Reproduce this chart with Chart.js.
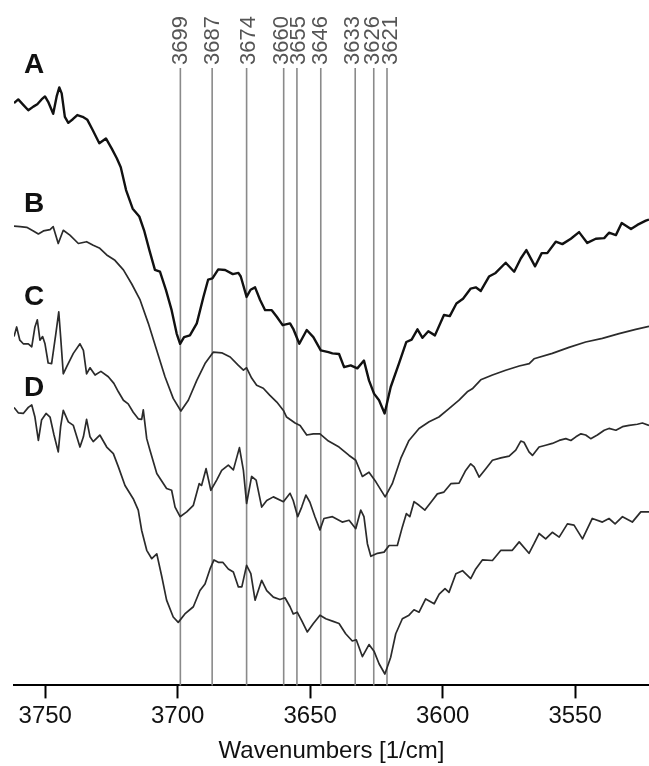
<!DOCTYPE html>
<html>
<head>
<meta charset="utf-8">
<script src="https://cdn.jsdelivr.net/npm/chart.js@4/dist/chart.umd.min.js"></script>
<style>
  html, body { margin: 0; padding: 0; background: #fff; }
  canvas { display: block; }
</style>
</head>
<body>
<canvas id="chart-ir" width="649" height="766"></canvas>
<script>
// Wavenumber window (reversed axis, as in the spectrum)
const X_MIN = 3522.1;
const X_MAX = 3761.8;
const X_TICKS_STEP = 50;

// Marked band positions [1/cm]
const peaks = [3699, 3687, 3674, 3660, 3655, 3646, 3633, 3626, 3621];

// Series labels
const seriesNames = ["A", "B", "C", "D"];

// Spectrum A (arb. units, offset)
const wnA = [3761.8, 3760.2, 3758.3, 3756.4, 3754.5, 3753.0, 3751.4, 3750.1, 3748.9, 3747.0, 3745.7, 3744.7, 3743.8, 3742.6, 3741.3, 3739.6, 3737.9, 3735.9, 3734.1, 3732.1, 3729.6, 3727.1, 3724.9, 3723.0, 3721.5, 3719.5, 3717.0, 3714.5, 3712.7, 3710.7, 3708.6, 3706.7, 3704.4, 3702.3, 3700.4, 3699.1, 3697.6, 3695.4, 3692.8, 3690.3, 3688.5, 3686.9, 3684.7, 3682.1, 3679.2, 3677.1, 3676.2, 3674.0, 3672.5, 3670.8, 3668.9, 3667.0, 3664.5, 3662.6, 3660.4, 3657.6, 3656.4, 3654.1, 3651.3, 3648.8, 3646.0, 3643.1, 3641.6, 3639.1, 3637.2, 3634.7, 3632.2, 3629.7, 3627.8, 3625.9, 3624.0, 3621.9, 3619.6, 3616.5, 3613.7, 3611.7, 3609.5, 3607.6, 3605.4, 3602.9, 3599.5, 3597.3, 3594.8, 3592.3, 3589.4, 3587.5, 3585.6, 3582.5, 3580.0, 3576.2, 3573.0, 3570.5, 3568.4, 3565.1, 3562.6, 3560.5, 3557.3, 3554.8, 3551.6, 3548.5, 3545.4, 3542.2, 3539.0, 3537.2, 3534.6, 3532.4, 3528.9, 3526.5, 3523.3, 3522.1];
const valA = [97.0, 97.6, 96.7, 95.8, 96.4, 96.8, 97.6, 98.1, 97.2, 95.2, 98.1, 99.6, 98.6, 94.7, 93.7, 94.3, 95.0, 94.7, 94.2, 92.5, 90.3, 91.1, 89.4, 87.8, 86.3, 82.5, 79.4, 78.1, 75.8, 72.5, 69.2, 68.9, 65.8, 62.5, 58.6, 56.9, 58.0, 58.3, 60.3, 64.7, 67.6, 67.8, 69.3, 69.2, 68.5, 68.7, 68.1, 64.7, 65.9, 66.3, 64.2, 62.5, 62.5, 61.4, 60.0, 60.3, 59.4, 56.9, 59.2, 58.0, 55.8, 55.5, 55.3, 55.2, 53.0, 53.3, 52.8, 54.1, 50.8, 48.6, 47.5, 45.3, 49.7, 53.6, 57.2, 57.6, 59.3, 57.9, 59.0, 58.3, 61.7, 61.5, 63.6, 64.4, 66.1, 66.3, 65.7, 68.1, 68.7, 70.4, 68.9, 71.1, 72.5, 69.8, 72.0, 72.0, 73.9, 73.5, 74.4, 75.5, 73.7, 74.4, 74.5, 75.4, 75.0, 77.0, 76.0, 76.7, 77.4, 77.6];

// Spectrum B
const wnB = [3761.8, 3759.5, 3757.0, 3754.5, 3752.6, 3750.7, 3748.2, 3747.0, 3745.1, 3743.2, 3740.7, 3737.5, 3734.4, 3731.9, 3729.4, 3726.8, 3723.7, 3720.5, 3717.4, 3714.2, 3711.1, 3707.9, 3704.8, 3701.7, 3698.8, 3696.0, 3692.8, 3689.7, 3686.6, 3683.4, 3680.2, 3677.1, 3675.2, 3674.0, 3672.1, 3670.2, 3667.7, 3665.2, 3662.6, 3660.1, 3658.9, 3655.7, 3653.8, 3651.3, 3648.8, 3646.3, 3643.1, 3639.1, 3635.3, 3632.8, 3630.3, 3627.8, 3625.2, 3621.7, 3619.0, 3615.8, 3612.7, 3608.9, 3605.1, 3601.4, 3597.6, 3593.8, 3590.7, 3588.8, 3585.6, 3581.2, 3576.2, 3571.1, 3567.3, 3565.5, 3558.6, 3552.3, 3546.0, 3539.7, 3533.4, 3527.1, 3522.1];
const valB = [76.5, 76.4, 76.3, 75.7, 75.2, 75.7, 75.9, 76.4, 73.6, 75.8, 75.0, 73.6, 73.9, 73.3, 72.8, 71.7, 70.8, 69.2, 66.9, 64.2, 60.3, 55.8, 51.4, 47.8, 45.7, 47.5, 50.8, 53.6, 55.5, 55.4, 54.7, 53.3, 52.5, 52.9, 51.2, 50.0, 49.5, 48.3, 47.2, 45.8, 44.7, 43.7, 43.3, 41.7, 41.9, 41.9, 40.7, 39.7, 38.3, 37.5, 34.8, 35.5, 33.9, 31.4, 33.6, 37.8, 40.8, 42.8, 43.9, 44.7, 46.1, 47.5, 48.9, 49.4, 50.9, 51.7, 52.5, 53.2, 53.6, 54.4, 55.3, 56.3, 57.2, 57.8, 58.6, 59.3, 59.8];

// Spectrum C
const wnC = [3761.8, 3760.8, 3759.6, 3758.3, 3756.4, 3755.1, 3753.9, 3753.0, 3752.0, 3751.0, 3750.1, 3748.9, 3747.6, 3746.0, 3744.9, 3744.2, 3743.2, 3741.9, 3739.4, 3736.9, 3735.6, 3734.4, 3733.1, 3731.2, 3729.0, 3726.2, 3724.1, 3722.4, 3720.5, 3718.7, 3716.8, 3714.9, 3713.6, 3713.0, 3711.7, 3710.5, 3707.9, 3704.2, 3702.3, 3701.0, 3699.1, 3696.6, 3694.1, 3691.9, 3691.0, 3689.3, 3687.5, 3685.3, 3683.4, 3680.9, 3679.0, 3676.7, 3675.2, 3674.0, 3672.1, 3670.4, 3668.3, 3666.4, 3663.9, 3660.1, 3657.6, 3656.4, 3654.7, 3653.2, 3651.6, 3650.1, 3648.2, 3646.3, 3644.8, 3641.6, 3637.9, 3635.3, 3632.8, 3630.9, 3629.7, 3628.4, 3627.1, 3624.6, 3622.1, 3620.2, 3617.1, 3615.2, 3613.7, 3612.4, 3610.8, 3608.9, 3606.7, 3603.9, 3602.0, 3599.5, 3596.9, 3593.8, 3591.3, 3589.4, 3588.1, 3586.2, 3583.7, 3581.2, 3578.0, 3574.9, 3572.4, 3570.5, 3569.3, 3567.4, 3566.1, 3563.6, 3561.1, 3558.6, 3556.0, 3553.5, 3551.6, 3549.7, 3547.8, 3546.0, 3544.1, 3541.6, 3539.0, 3537.2, 3534.6, 3532.1, 3529.6, 3526.5, 3524.6, 3522.1];
const valC = [58.1, 59.7, 57.5, 56.9, 56.9, 56.4, 59.7, 60.9, 57.5, 58.1, 56.9, 53.7, 53.6, 58.6, 62.2, 58.1, 51.9, 53.1, 55.3, 56.9, 55.8, 51.9, 52.9, 51.7, 52.3, 51.4, 50.3, 48.9, 47.5, 46.9, 45.5, 44.4, 44.3, 45.9, 41.1, 39.2, 35.3, 32.8, 32.5, 29.7, 28.1, 28.9, 30.0, 33.6, 33.3, 36.1, 32.5, 34.2, 35.8, 36.7, 35.9, 39.6, 35.8, 30.3, 34.8, 34.2, 29.7, 30.8, 31.4, 30.6, 32.0, 30.8, 28.1, 29.7, 31.7, 30.5, 28.1, 25.9, 27.8, 28.1, 27.2, 27.5, 26.1, 29.2, 28.1, 23.6, 21.5, 22.0, 22.2, 23.3, 23.3, 26.4, 28.6, 28.1, 30.6, 30.0, 29.2, 30.8, 31.9, 32.2, 33.6, 33.7, 35.8, 36.9, 36.4, 34.7, 36.1, 37.5, 37.9, 38.2, 39.2, 40.7, 40.5, 38.9, 38.3, 39.7, 40.0, 40.3, 40.8, 41.1, 40.8, 41.4, 41.9, 41.7, 41.1, 41.7, 42.5, 42.8, 42.5, 43.1, 43.3, 43.5, 43.7, 43.3];

// Spectrum D
const wnD = [3761.8, 3760.2, 3758.3, 3756.4, 3755.1, 3753.9, 3752.6, 3751.4, 3749.7, 3748.2, 3746.7, 3745.1, 3744.2, 3743.2, 3741.3, 3739.4, 3736.9, 3735.6, 3734.4, 3733.1, 3731.9, 3729.4, 3726.8, 3724.3, 3722.4, 3719.9, 3716.8, 3714.9, 3713.6, 3711.7, 3709.8, 3707.9, 3706.0, 3704.2, 3701.7, 3699.8, 3697.3, 3694.1, 3691.6, 3689.7, 3687.8, 3686.3, 3684.7, 3683.0, 3680.9, 3679.0, 3677.1, 3675.8, 3674.0, 3672.4, 3670.8, 3668.3, 3666.4, 3663.9, 3661.4, 3659.5, 3657.6, 3656.4, 3654.9, 3653.2, 3651.1, 3648.8, 3646.3, 3644.1, 3641.6, 3639.1, 3636.6, 3634.1, 3632.6, 3630.3, 3627.8, 3625.9, 3624.0, 3621.8, 3619.6, 3617.7, 3615.2, 3612.7, 3610.8, 3608.9, 3606.4, 3603.2, 3601.3, 3599.1, 3597.6, 3595.0, 3592.5, 3589.4, 3587.5, 3585.0, 3581.2, 3578.0, 3573.7, 3571.1, 3567.4, 3565.5, 3563.6, 3561.1, 3558.6, 3556.0, 3552.9, 3550.4, 3547.2, 3543.5, 3539.7, 3537.2, 3534.9, 3532.1, 3528.4, 3525.2, 3522.1];
const valD = [46.3, 45.4, 45.3, 46.3, 46.7, 44.7, 40.8, 44.2, 45.3, 44.7, 41.7, 38.9, 43.1, 45.8, 43.9, 43.3, 39.7, 41.4, 44.3, 41.4, 40.6, 41.7, 39.7, 38.6, 36.4, 33.3, 31.1, 29.2, 25.8, 22.5, 21.1, 21.9, 18.1, 14.2, 11.4, 10.5, 11.9, 13.1, 15.8, 16.9, 19.4, 20.9, 20.5, 20.5, 19.4, 18.9, 16.4, 16.4, 20.0, 18.6, 14.2, 17.5, 15.8, 14.7, 14.3, 14.6, 13.1, 11.9, 12.2, 10.8, 8.9, 10.3, 11.7, 11.1, 10.7, 10.3, 8.6, 7.4, 7.6, 4.8, 6.8, 5.7, 3.6, 1.9, 4.7, 8.6, 11.1, 11.7, 12.6, 12.2, 14.4, 13.6, 15.2, 16.1, 15.5, 18.6, 19.1, 17.8, 19.4, 20.9, 20.8, 22.5, 22.5, 23.9, 22.0, 23.6, 25.3, 24.4, 25.5, 24.7, 26.9, 26.7, 24.4, 27.8, 27.2, 27.8, 26.9, 28.1, 27.2, 28.9, 28.9];

(function () {
  const FONT = "'Liberation Sans', Arial, Helvetica, sans-serif";

  function pts(xs, ys) { return xs.map((x, i) => ({ x: x, y: ys[i] })); }

  function line(label, xs, ys, color, width) {
    return {
      label, data: pts(xs, ys), borderColor: color, borderWidth: width,
      pointRadius: 0, tension: 0, fill: false, borderJoinStyle: "round"
    };
  }

  // vertical band markers with rotated labels
  const peakLines = {
    id: "peakLines",
    beforeDatasetsDraw(chart, args, opts) {
      const { ctx, chartArea, scales } = chart;
      ctx.save();
      peaks.forEach((p, i) => {
        const x = scales.x.getPixelForValue(p);
        ctx.strokeStyle = "#8a8a8a";
        ctx.lineWidth = 1.6;
        ctx.beginPath();
        ctx.moveTo(x, chartArea.top + 1);
        ctx.lineTo(x, chartArea.bottom);
        ctx.stroke();
        // labels nudged sideways where the lines are too close
        ctx.save();
        ctx.translate(x + (opts.nudge[i] || 0), chartArea.top - 2);
        ctx.rotate(-Math.PI / 2);
        ctx.fillStyle = "#555";
        ctx.font = "22px " + FONT;
        ctx.textAlign = "left";
        ctx.textBaseline = "middle";
        ctx.fillText(String(p), 0, 1);
        ctx.restore();
      });
      ctx.restore();
    }
  };

  // curve letters A-D on the left side
  const curveNames = {
    id: "curveNames",
    afterDatasetsDraw(chart, args, opts) {
      const { ctx, scales } = chart;
      ctx.save();
      ctx.fillStyle = "#111";
      ctx.font = "bold 28px " + FONT;
      ctx.textAlign = "left";
      ctx.textBaseline = "alphabetic";
      seriesNames.forEach((n, i) => {
        ctx.fillText(n, opts.left, scales.y.getPixelForValue(opts.levels[i]));
      });
      ctx.restore();
    }
  };

  const ctx = document.getElementById("chart-ir");
  new Chart(ctx, {
    type: "line",
    data: {
      datasets: [
        line(seriesNames[0], wnA, valA, "#111", 2.4),
        line(seriesNames[1], wnB, valB, "#2b2b2b", 1.7),
        line(seriesNames[2], wnC, valC, "#2b2b2b", 1.7),
        line(seriesNames[3], wnD, valD, "#2b2b2b", 1.7)
      ]
    },
    options: {
      responsive: false, animation: false,
      layout: { padding: { left: 14, right: 0, top: 67, bottom: 0 } },
      plugins: {
        legend: { display: false }, tooltip: { enabled: false },
        peakLines: { nudge: [0, 0, 1, -3, 1, -1, -3, -2, 3] },
        curveNames: { left: 24, levels: [102, 78.9, 63.3, 48.2] }
      },
      scales: {
        x: {
          type: "linear", reverse: true, min: X_MIN, max: X_MAX,
          border: { display: true, color: "#000", width: 2 },
          grid: { drawOnChartArea: false, drawTicks: true, tickLength: 13, tickColor: "#000", tickWidth: 2 },
          ticks: {
            stepSize: X_TICKS_STEP, includeBounds: false, padding: 4, color: "#111",
            maxRotation: 0, autoSkip: false, font: { size: 24, family: FONT },
            callback: (v) => String(v)
          },
          title: {
            display: true, text: "Wavenumbers [1/cm]", color: "#111",
            font: { size: 24, family: FONT }, padding: { top: 2, bottom: 0 }
          }
        },
        y: { display: false, min: 0, max: 103 }
      }
    },
    plugins: [peakLines, curveNames]
  });
})();
</script>
</body>
</html>
